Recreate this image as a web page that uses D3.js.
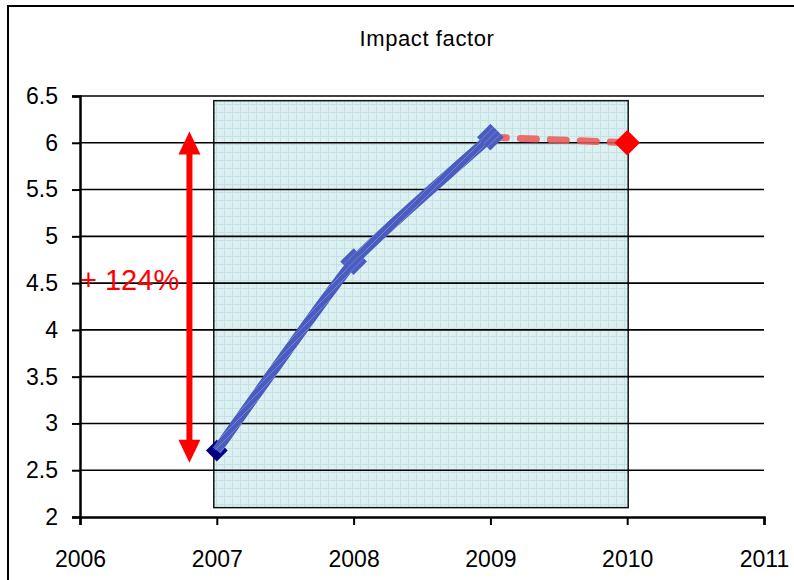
<!DOCTYPE html>
<html>
<head>
<meta charset="utf-8">
<script src="https://cdn.jsdelivr.net/npm/d3@7"></script>
<style>
  body { margin: 0; background: #fff; }
  svg { display: block; font-family: "Liberation Sans", Arial, sans-serif; }
</style>
</head>
<body>
<svg id="chart" width="794" height="580"></svg>
<script>
const years = [2007, 2008, 2009];
const impact = [2.71, 4.73, 6.06];
const projYears = [2009, 2010];
const projImpact = [6.06, 6.0];
const xTicks = [2006, 2007, 2008, 2009, 2010, 2011];
const yTicks = [2, 2.5, 3, 3.5, 4, 4.5, 5, 5.5, 6, 6.5];
const growthLabel = "+ 124%";
const arrowRange = [2.58, 6.12];

const width = 794, height = 580;
const svg = d3.select("#chart");

const x = d3.scaleLinear().domain([2006, 2011]).range([80, 764]);
const y = d3.scaleLinear().domain([2, 6.5]).range([517, 96]);

// outer frame
svg.append("rect")
  .attr("x", 8).attr("y", 6)
  .attr("width", width + 20).attr("height", height + 20)
  .attr("fill", "none").attr("stroke", "#000").attr("stroke-width", 2);

// cyan hatched pattern for the inner box
const defs = svg.append("defs");
const pat = defs.append("pattern")
  .attr("id", "grid").attr("width", 8).attr("height", 8)
  .attr("patternUnits", "userSpaceOnUse");
pat.append("rect").attr("width", 8).attr("height", 8).attr("fill", "#dcf0f2");
pat.append("path").attr("d", "M0,0.5H8M0.5,0V8")
  .attr("stroke", "#c3e2e6").attr("stroke-width", 1);
pat.append("circle").attr("cx", 4).attr("cy", 4).attr("r", 0.6).attr("fill", "#fff");

const lp = defs.append("pattern")
  .attr("id", "bluehatch").attr("width", 7).attr("height", 7)
  .attr("patternUnits", "userSpaceOnUse");
lp.append("rect").attr("width", 7).attr("height", 7).attr("fill", "#4a5cc0");
lp.append("path").attr("d", "M0,7L7,0").attr("stroke", "#7f8dd4").attr("stroke-width", 0.8);

svg.append("rect")
  .attr("x", x(2007) - 3).attr("y", y(6.45))
  .attr("width", x(2010) - x(2007) + 4).attr("height", y(2.1) - y(6.45))
  .attr("fill", "url(#grid)").attr("stroke", "#111").attr("stroke-width", 1.5);

// title
svg.append("text")
  .attr("x", 427).attr("y", 46)
  .attr("text-anchor", "middle")
  .attr("font-size", 22)
  .attr("letter-spacing", 0.6)
  .text("Impact factor");

// horizontal gridlines
svg.append("g").selectAll("line")
  .data(yTicks.slice(1))
  .join("line")
  .attr("x1", x(2006)).attr("x2", x(2011))
  .attr("y1", d => y(d)).attr("y2", d => y(d))
  .attr("stroke", "#000").attr("stroke-width", 1.6);

// axes
const yAxis = d3.axisLeft(y).tickValues(yTicks).tickSize(8).tickPadding(14)
  .tickFormat(d3.format("~g"));
const gy = svg.append("g").attr("transform", `translate(${x(2006)},0)`).call(yAxis);
const xAxis = d3.axisBottom(x).tickValues(xTicks).tickSize(8).tickPadding(26)
  .tickFormat(d3.format("d"));
const gx = svg.append("g").attr("transform", `translate(0,${y(2)})`).call(xAxis);

[gx, gy].forEach(g => {
  g.select(".domain").attr("stroke", "#000").attr("stroke-width", 2.5);
  g.selectAll(".tick line").attr("stroke", "#000").attr("stroke-width", 2);
  g.selectAll(".tick text").attr("font-size", 23).attr("fill", "#000")
    .attr("font-family", "Liberation Sans, Arial, sans-serif");
});

// projected (dashed red) segment
const proj = projYears.map((d, i) => [d, projImpact[i]]);
svg.append("path")
  .datum(proj)
  .attr("d", d3.line().x(d => x(d[0])).y(d => y(d[1])))
  .attr("fill", "none")
  .attr("stroke", "#ee5555").attr("stroke-opacity", 0.85)
  .attr("stroke-width", 7).attr("stroke-linecap", "round")
  .attr("stroke-dasharray", "16 14");

// 2007 navy marker (under the line)
const pts = years.map((d, i) => [d, impact[i]]);
const diamond = d3.symbol().type(d3.symbolDiamond2);
svg.append("path")
  .attr("d", diamond.size(300)())
  .attr("transform", `translate(${x(pts[0][0])},${y(pts[0][1])})`)
  .attr("fill", "#000080");

// main blue line
svg.append("path")
  .datum(pts)
  .attr("d", d3.line().curve(d3.curveCardinal.tension(0.6)).x(d => x(d[0])).y(d => y(d[1])))
  .attr("fill", "none")
  .attr("stroke", "url(#bluehatch)")
  .attr("stroke-width", 10)
  .attr("stroke-linejoin", "round");

// blue markers at 2008, 2009
svg.append("g").selectAll("path")
  .data(pts.slice(1))
  .join("path")
  .attr("d", diamond.size(460)())
  .attr("transform", d => `translate(${x(d[0])},${y(d[1])})`)
  .attr("fill", "url(#bluehatch)");

// red marker at 2010
svg.append("path")
  .attr("d", diamond.size(420)())
  .attr("transform", `translate(${x(proj[1][0])},${y(proj[1][1])})`)
  .attr("fill", "#ff0000");

// double-headed red arrow
const ax = x(2006.8);
const head = 23, hw = 11;
const yt = y(arrowRange[1]), yb = y(arrowRange[0]);
svg.append("line")
  .attr("x1", ax).attr("x2", ax)
  .attr("y1", yt + head - 1).attr("y2", yb - head + 1)
  .attr("stroke", "#ff0000").attr("stroke-width", 6);
svg.append("path")
  .attr("d", `M${ax},${yt}L${ax + hw},${yt + head}L${ax - hw},${yt + head}Z`)
  .attr("fill", "#ff0000");
svg.append("path")
  .attr("d", `M${ax},${yb}L${ax + hw},${yb - head}L${ax - hw},${yb - head}Z`)
  .attr("fill", "#ff0000");

svg.append("text")
  .attr("x", x(2006)).attr("y", y(4.43))
  .attr("font-size", 29).attr("fill", "#ff0000")
  .text(growthLabel);
</script>
</body>
</html>
